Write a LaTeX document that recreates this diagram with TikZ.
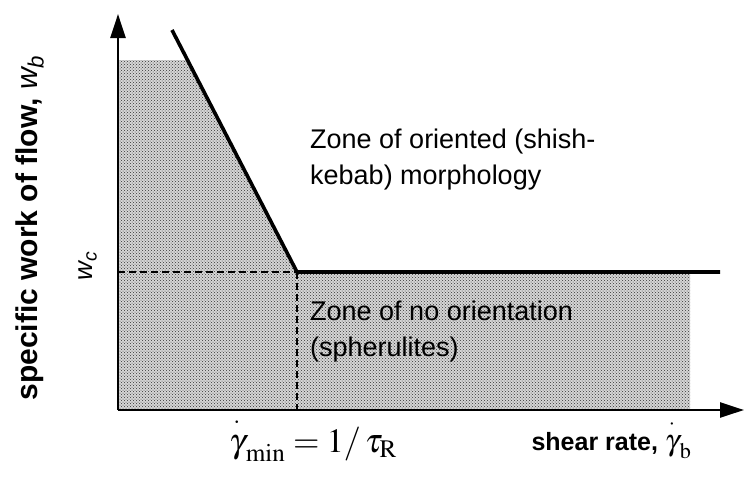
\documentclass[tikz,border=0pt]{standalone}
\usepackage{amsmath}
\usepackage{mathptmx}
\usepackage[no-math]{fontspec}
\setmainfont{Liberation Sans}
\usetikzlibrary{arrows.meta,patterns}

\newcommand{\gdot}{\overset{\rlap{$\scriptstyle\kern0.05em\boldsymbol{\cdot}$}}{\gamma}}

\begin{document}
\begin{tikzpicture}[
  x=1pt, y=-1pt,
  zonetext/.style={anchor=west, align=left, font=\fontsize{27}{36}\selectfont, inner sep=0pt},
  dotfill/.style={fill=black!16, draw=none},
  dotpat/.style={pattern=crosshatch dots, pattern color=black!80, draw=none},
  axis/.style={line width=2.4pt, -{Triangle[length=24pt,width=15pt]}},
  line cap=butt
]
  \useasboundingbox (0,0) rectangle (744,483);

  % key points of the plot
  \coordinate (o)   at (118,410);
  \coordinate (ytop) at (118,14);
  \coordinate (xend) at (744,410);
  \coordinate (lt)  at (172,30);
  \coordinate (kn)  at (297,272);
  \coordinate (re)  at (720,272);

  % shaded zone
  \fill[dotfill] (118,410) -- (118,60) -- (187.5,60) -- (kn) -- (690,272) -- (690,410) -- cycle;
  \fill[dotpat]  (118,410) -- (118,60) -- (187.5,60) -- (kn) -- (690,272) -- (690,410) -- cycle;

  % axes
  \draw[axis] (o) -- (xend);
  \draw[axis] (o) -- (ytop);

  % boundary
  \draw[line width=3.6pt, line join=miter] (lt) -- (kn) -- (re);
  \draw[line width=1.2pt, dash pattern=on 7pt off 4pt] (o |- kn) -- (kn);
  \draw[line width=1.2pt, dash pattern=on 7pt off 4pt] (kn) -- (kn |- o);

  % labels
  \node[zonetext] (orient) at (310,160) {Zone of oriented (shish-\\kebab) morphology};
  \node[zonetext] (noor)   at (310,332) {Zone of no orientation\\(spherulites)};

  \node[rotate=90, font=\fontsize{30}{34}\selectfont\bfseries] (ylab) at (30,228)
      {specific work of flow, \mdseries\itshape w\textsubscript{b}};
  \node[rotate=90, font=\fontsize{26}{30}\selectfont\itshape] (wc) at (88,266) {w\textsubscript{c}};

  \node[font=\fontsize{34}{40}\selectfont] (gmin) at (313,438)
      {$\gdot_{\mathrm{min}} = 1/\,\tau_{\mathrm{R}}$};
  \node[font=\fontsize{25}{30}\selectfont\bfseries, anchor=west] (srate) at (528,438)
      {shear rate, \mdseries\fontsize{30}{34}\selectfont$\gdot_{\mathrm{b}}$};
\end{tikzpicture}
\end{document}
